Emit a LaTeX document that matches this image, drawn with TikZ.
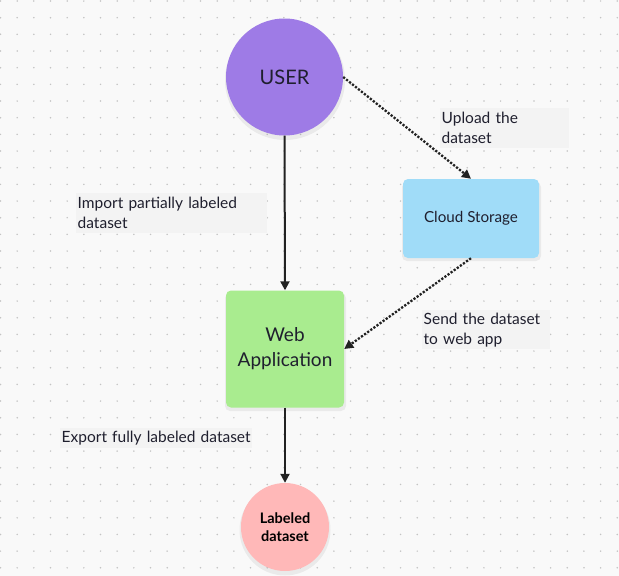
\documentclass[tikz,border=0pt]{standalone}
\usepackage{fontspec}
\setmainfont{Lato}
\usetikzlibrary{arrows.meta}
\definecolor{bgc}{HTML}{F9F9F9}
\definecolor{dotc}{HTML}{C4C4C4}
\definecolor{userc}{HTML}{9E7BE6}
\definecolor{webc}{HTML}{A9EC8F}
\definecolor{cloudc}{HTML}{A0DCF8}
\definecolor{labc}{HTML}{FFB8B8}
\definecolor{lblbg}{HTML}{F3F3F3}
\definecolor{ink}{HTML}{1F1F2E}
\definecolor{linec}{HTML}{222222}
\tikzset{
  shade/.style={fill=black, opacity=0.06},
  solidarrow/.style={draw=linec, line width=2pt, -{Triangle[length=9pt,width=9pt]}},
  dotarrow/.style={draw=linec, line width=2.3pt, dash pattern=on 2.2pt off 1.6pt, -{Triangle[length=9pt,width=9pt]}},
  lbl/.style={fill=lblbg, anchor=north west, align=left, inner xsep=1.5pt, inner ysep=0pt, text=ink, font=\fontsize{15.5}{20}\selectfont},
}
\begin{document}
\begin{tikzpicture}[x=1pt,y=-1pt]
\useasboundingbox (0,0) rectangle (619,576);
\fill[bgc] (0,0) rectangle (619,576);
\foreach \i in {0,...,37} {
  \foreach \j in {0,...,34} {
    \fill[dotc] (0.5+16.67*\i, 1+16.67*\j) circle (0.85);
  }
}
% shadows
\fill[shade] (285,80) circle (60);
\fill[shade, rounded corners=5pt] (402,182) rectangle (541,261);
\fill[shade, rounded corners=5pt] (225,293) rectangle (346,411);
\fill[shade] (285,530) circle (45.5);
% nodes
\node[circle, fill=userc, minimum size=117pt, inner sep=0pt, text=ink, font=\fontsize{20}{24}\selectfont] (user) at (284.5,77) {USER};
\node[rectangle, rounded corners=5pt, fill=cloudc, minimum width=136pt, minimum height=79pt, inner sep=0pt, text=ink, font=\fontsize{15.2}{18}\selectfont] (cloud) at (471,218.5) {Cloud Storage};
\node[rectangle, rounded corners=5pt, fill=webc, minimum width=118pt, minimum height=117pt, inner sep=0pt, text=ink, align=center, font=\fontsize{19}{25}\selectfont] (web) at (285,349) {Web\\Application};
\node[circle, fill=labc, minimum size=88pt, inner sep=0pt, text=black, align=center, font=\fontsize{14.5}{18}\selectfont\bfseries] (lab) at (285,527) {Labeled\\dataset};
% labels
\node[lbl, text width=126pt, minimum height=40pt] (l1) at (440,108) {Upload the\\dataset};
\node[lbl, text width=188pt, minimum height=40pt] (l2) at (76,193) {Import partially labeled\\dataset};
\node[lbl, text width=125pt, minimum height=39pt] (l3) at (422,310) {Send the dataset\\to web app};
\node[lbl, text width=189pt, minimum height=20pt] (l4) at (60,428) {Export fully labeled dataset};
% connectors
\draw[solidarrow] (user.south) -- (web.north);
\draw[solidarrow] (web.south) -- (lab.north);
\draw[dotarrow] (user.east) -- (cloud.north);
\draw[dotarrow] (cloud.south) -- (web.east);
\end{tikzpicture}
\end{document}
